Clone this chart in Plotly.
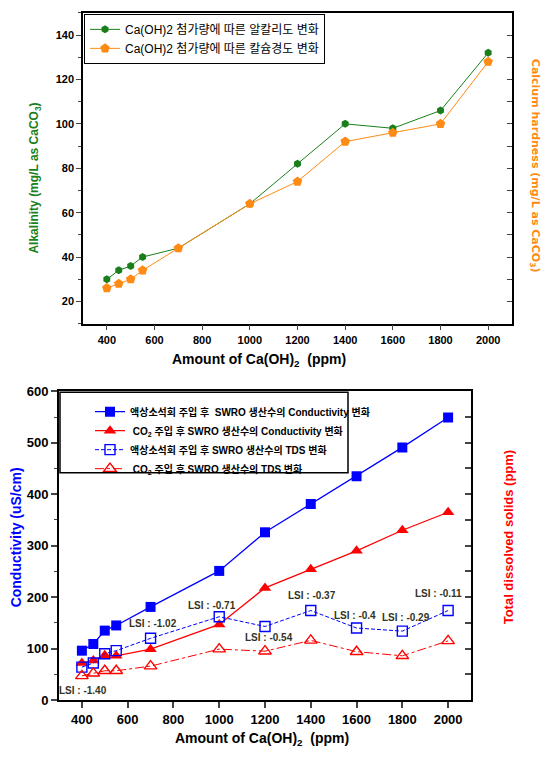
import plotly.graph_objects as go

# ---------------- data ----------------
ca_dose = [400, 450, 500, 550, 700, 1000, 1200, 1400, 1600, 1800, 2000]

alkalinity = [30, 34, 36, 40, 44, 64, 82, 100, 98, 106, 132]
calcium_hardness = [26, 28, 30, 34, 44, 64, 74, 92, 96, 100, 128]

cond_lime = [96, 109, 135, 145, 181, 251, 326, 381, 435, 491, 549]
cond_co2 = [72, 77, 87, 86, 99, 147, 218, 254, 290, 330, 365]
tds_lime = [64, 72, 90, 96, 120, 162, 143, 174, 140, 134, 174]
tds_co2 = [47, 52, 57, 57, 66, 99, 95, 116, 94, 86, 115]

lsi_labels = ["LSI : -1.40", "LSI : -1.02", "LSI : -0.71", "LSI : -0.54",
              "LSI : -0.37", "LSI : -0.4", "LSI : -0.29", "LSI : -0.11"]
lsi_x = [405, 710, 968, 1217, 1405, 1593, 1815, 1960]
lsi_y = [19, 149, 184, 122, 203, 164, 161, 208]

x_ticks = [400, 600, 800, 1000, 1200, 1400, 1600, 1800, 2000]

# ---------------- styling ----------------
W, H = 542, 762
FONT = "Liberation Sans, Arial, Noto Sans CJK KR, sans-serif"
KFONT = "Liberation Sans, Noto Sans CJK KR, sans-serif"
WIDEFONT = "DejaVu Sans, Liberation Sans, sans-serif"
GREEN = "#1a7f1a"
ORANGE = "#ff8a14"
BLUE = "#0000ff"
RED = "#ff0000"

def px(x):
    return x / W

def py(y):
    return 1 - y / H

fig = go.Figure()

# top chart
fig.add_trace(go.Scatter(
    x=ca_dose, y=alkalinity, mode="lines+markers", xaxis="x", yaxis="y",
    name="Ca(OH)2 첨가량에 따른 알칼리도 변화", legend="legend",
    line=dict(color=GREEN, width=1),
    marker=dict(symbol="hexagon", size=8, color=GREEN)))
fig.add_trace(go.Scatter(
    x=ca_dose, y=calcium_hardness, mode="lines+markers", xaxis="x", yaxis="y2",
    name="Ca(OH)2 첨가량에 따른 칼슘경도 변화", legend="legend",
    line=dict(color=ORANGE, width=1),
    marker=dict(symbol="pentagon", size=10, color=ORANGE)))

# bottom chart
fig.add_trace(go.Scatter(
    x=ca_dose, y=cond_lime, mode="lines+markers", xaxis="x2", yaxis="y3",
    name="액상소석회 주입 후  SWRO 생산수의 Conductivity 변화", legend="legend2",
    line=dict(color=BLUE, width=1.3),
    marker=dict(symbol="square", size=10, color=BLUE)))
fig.add_trace(go.Scatter(
    x=ca_dose, y=cond_co2, mode="lines+markers", xaxis="x2", yaxis="y3",
    name=" CO<sub>2</sub> 주입 후 SWRO 생산수의 Conductivity 변화", legend="legend2",
    line=dict(color=RED, width=1.3),
    marker=dict(symbol="triangle-up", size=11, color=RED)))
fig.add_trace(go.Scatter(
    x=ca_dose, y=tds_lime, mode="lines+markers", xaxis="x2", yaxis="y4",
    name="액상소석회 주입 후 SWRO 생산수의 TDS 변화", legend="legend2",
    line=dict(color=BLUE, width=1, dash="4px,2px"),
    marker=dict(symbol="square-open", size=10, color=BLUE, line=dict(width=1.4))))
fig.add_trace(go.Scatter(
    x=ca_dose, y=tds_co2, mode="lines+markers", xaxis="x2", yaxis="y4",
    name=" CO<sub>2</sub> 주입 후 SWRO 생산수의 TDS 변화", legend="legend2",
    line=dict(color=RED, width=1, dash="dashdot"),
    marker=dict(symbol="triangle-up-open", size=11, color=RED, line=dict(width=1.4))))

tick_small = dict(family=FONT, size=11, color="black", weight="bold")
tick_big = dict(family=FONT, size=13, color="black", weight="bold")

fig.update_layout(
    width=W, height=H,
    margin=dict(l=0, r=0, t=0, b=0),
    paper_bgcolor="white", plot_bgcolor="white",
    showlegend=True,
    xaxis=dict(domain=[px(83), px(512)], anchor="y", range=[300, 2100],
               tickvals=x_ticks, ticks="outside", ticklen=5, tickwidth=1.3,
               showline=True, linecolor="black", linewidth=1.5, mirror=True,
               showgrid=False, zeroline=False, tickfont=tick_small),
    yaxis=dict(domain=[py(323), py(6)], anchor="x", range=[10, 150],
               tick0=0, dtick=20, ticks="outside", ticklen=5, tickwidth=1.3,
               minor=dict(dtick=10, tick0=0, ticks="outside", ticklen=3, tickwidth=1.2),
               showline=True, linecolor="black", linewidth=1.5,
               showgrid=False, zeroline=False, tickfont=tick_small),
    yaxis2=dict(overlaying="y", side="right", anchor="x", range=[10, 150],
                tick0=0, dtick=10, ticks="inside", ticklen=5, tickwidth=1.2,
                showticklabels=False, showline=True, linecolor="black", linewidth=1.5,
                showgrid=False, zeroline=False),
    xaxis2=dict(domain=[px(59), px(471)], anchor="y3", range=[300, 2100],
                tickvals=x_ticks, ticks="outside", ticklen=6, tickwidth=1.5,
                showline=True, linecolor="black", linewidth=2, mirror=True,
                showgrid=False, zeroline=False, tickfont=tick_big),
    yaxis3=dict(domain=[py(707), py(392)], anchor="x2", range=[0, 600],
                tick0=0, dtick=100, ticks="outside", ticklen=6, tickwidth=1.5,
                minor=dict(dtick=50, tick0=0, ticks="outside", ticklen=3, tickwidth=1.3),
                showline=True, linecolor="black", linewidth=2,
                showgrid=False, zeroline=False, tickfont=tick_big),
    yaxis4=dict(overlaying="y3", side="right", anchor="x2", range=[0, 600],
                tick0=0, dtick=50, ticks="inside", ticklen=6, tickwidth=1.5,
                showticklabels=False, showline=True, linecolor="black", linewidth=2,
                showgrid=False, zeroline=False),
    legend=dict(x=px(84), y=py(7), xanchor="left", yanchor="top",
                bgcolor="white", bordercolor="black", borderwidth=1,
                font=dict(family=KFONT, size=12, color="black"),
                tracegroupgap=0, itemwidth=30),
    legend2=dict(x=px(90), y=py(398), xanchor="left", yanchor="top",
                 bgcolor="rgba(0,0,0,0)", borderwidth=0,
                 font=dict(family=KFONT, size=10, color="black", weight="bold"),
                 tracegroupgap=0, itemwidth=30),
)

# bottom legend frame
fig.add_shape(type="rect", xref="paper", yref="paper",
              x0=px(60), x1=px(348), y0=py(475), y1=py(393),
              line=dict(color="black", width=1.5), fillcolor="rgba(0,0,0,0)",
              layer="below")

def title_ann(text, x, y, size, color, angle=0, family=FONT):
    return dict(text=text, x=px(x), y=py(y), xref="paper", yref="paper",
                xanchor="center", yanchor="middle", showarrow=False,
                textangle=angle, font=dict(family=family, size=size, color=color))

ann = [
    title_ann("<b>Amount of Ca(OH)<sub>2</sub>  (ppm)</b>", 259, 360, 14, "black"),
    title_ann("<b>Alkalinity (mg/L as CaCO<sub>3</sub>)</b>", 35, 175, 12, GREEN, -90),
    title_ann("<b>Calcium hardness (mg/L as CaCO<sub>3</sub>)</b>", 535, 162, 11, ORANGE, 90, WIDEFONT),
    title_ann("<b>Amount of Ca(OH)<sub>2</sub>  (ppm)</b>", 262, 747, 14, "black"),
    title_ann("<b>Conductivity (uS/cm)</b>", 16, 541, 14, BLUE, -90),
    title_ann("<b>Total dissolved solids (ppm)</b>", 508, 541, 13, RED, -90),
]

for t, xx, yy in zip(lsi_labels, lsi_x, lsi_y):
    ann.append(dict(text="<b>" + t + "</b>", x=xx, y=yy, xref="x2", yref="y3",
                    xanchor="center", yanchor="middle", showarrow=False,
                    font=dict(family=FONT, size=10, color="#333322")))

fig.update_layout(annotations=ann)

fig.write_html("out.html",
               config={"displayModeBar": False},
               post_script="document.body.style.margin='0';document.body.style.overflow='hidden';")
